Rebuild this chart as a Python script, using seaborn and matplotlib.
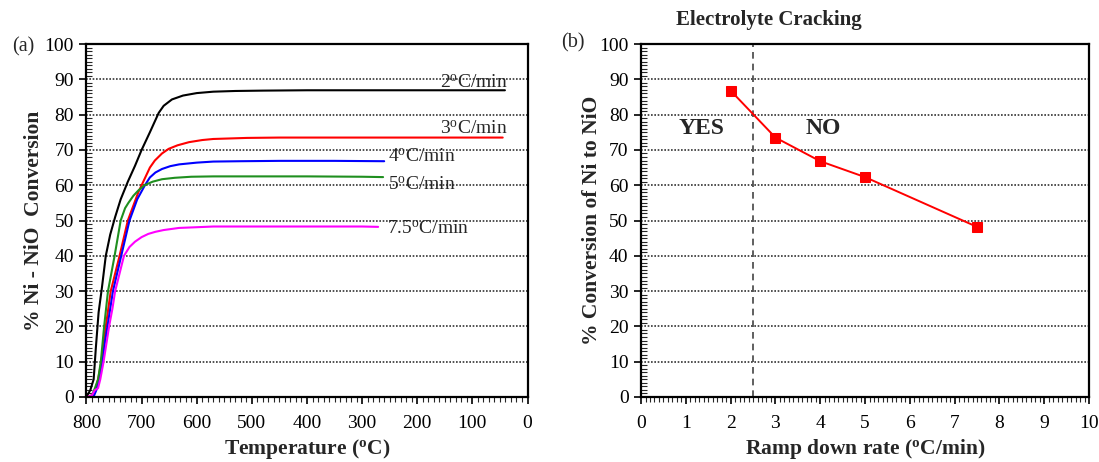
import numpy as np
import pandas as pd
import matplotlib
matplotlib.use("Agg")
import matplotlib.pyplot as plt
from matplotlib.ticker import MultipleLocator
import seaborn as sns

# Ni -> NiO conversion versus temperature during cool-down, one curve per ramp rate
temp_2 = [800, 793, 787, 783, 778, 772, 765, 757, 748, 738, 725, 712, 700, 685, 669, 660,
          645, 625, 600, 570, 530, 480, 400, 300, 200, 100, 41]
conv_2 = [0, 2, 5, 14, 24, 31, 40, 46, 51, 56, 61, 65.5, 70, 75, 80.5, 82.5,
          84.3, 85.4, 86.1, 86.5, 86.7, 86.8, 86.9, 86.9, 86.9, 86.9, 86.9]

temp_3 = [797, 790, 784, 779, 773, 765, 756, 740, 725, 706, 694, 685, 676, 663, 651, 635,
          614, 590, 570, 509, 450, 350, 250, 150, 45]
conv_3 = [0, 0.5, 2, 5, 10, 20, 30, 40, 50, 58, 62, 65, 67, 69, 70.3, 71.3,
          72.2, 72.8, 73.1, 73.4, 73.5, 73.5, 73.5, 73.5, 73.5]

temp_4 = [790, 786, 782, 777, 771, 767, 762, 752, 737, 722, 708, 694, 685, 675, 663, 648,
          632, 600, 570, 520, 450, 350, 260]
conv_4 = [0, 0.5, 2, 5, 10, 15, 20, 30, 40, 50, 56, 60, 62.2, 63.6, 64.6, 65.4,
          65.9, 66.4, 66.7, 66.8, 66.9, 66.9, 66.8]

temp_5 = [795, 790, 785, 779, 774, 768, 761, 749, 738, 730, 724, 715, 706, 695, 680, 663,
          640, 610, 570, 500, 400, 300, 262]
conv_5 = [0, 0.5, 2.4, 5, 10, 20, 30, 40, 50, 53.5, 55, 57, 58.5, 60, 61, 61.7,
          62.1, 62.4, 62.5, 62.5, 62.5, 62.4, 62.3]

temp_75 = [798, 790, 785, 779, 775, 769, 764, 759, 753, 748, 740, 732, 722, 712, 700, 688,
           675, 660, 632, 600, 570, 500, 400, 300, 271]
conv_75 = [0, 0.5, 1.9, 2.5, 5, 10, 15, 20, 25, 30, 35, 40, 42.5, 44, 45.3, 46.2,
           46.8, 47.3, 47.9, 48.1, 48.3, 48.3, 48.3, 48.3, 48.2]

rate_names = ["2", "3", "4", "5", "7.5"]
rate_colors = ["black", "#ff0000", "#0000ff", "#1f8f1f", "#ff00ff"]

# Final conversion at each ramp-down rate
ramp_rate = [2, 3, 4, 5, 7.5]
final_conv = [86.8, 73.5, 66.8, 62.3, 48.2]
crack_limit = 2.5

sns.set_style("ticks")
plt.rcParams["font.family"] = ["Liberation Serif", "DejaVu Serif"]
plt.rcParams["mathtext.fontset"] = "custom"
plt.rcParams["mathtext.rm"] = "Liberation Serif"
plt.rcParams["mathtext.bf"] = "Liberation Serif:bold"
plt.rcParams["mathtext.it"] = "Liberation Serif:italic"

curves = pd.concat([
    pd.DataFrame({"T": t, "conv": c, "rate": r})
    for t, c, r in zip([temp_2, temp_3, temp_4, temp_5, temp_75],
                       [conv_2, conv_3, conv_4, conv_5, conv_75], rate_names)
], ignore_index=True)
summary = pd.DataFrame({"rate": ramp_rate, "conv": final_conv})

fig = plt.figure(figsize=(10.99, 4.62), dpi=100)
ax1 = fig.add_axes([0.0787, 0.1407, 0.4013, 0.764])
ax2 = fig.add_axes([0.5833, 0.1407, 0.4076, 0.764])


def style_axes(ax, xminor):
    for s in ax.spines.values():
        s.set_visible(True)
        s.set_color("black")
        s.set_linewidth(1.6)
    ax.set_ylim(0, 100)
    ax.yaxis.set_major_locator(MultipleLocator(10))
    ax.yaxis.set_minor_locator(MultipleLocator(1))
    ax.xaxis.set_minor_locator(MultipleLocator(xminor))
    ax.tick_params(axis="both", which="major", direction="out", length=5, width=1.2,
                   labelsize=14, colors="black")
    ax.tick_params(axis="x", which="major", pad=8)
    ax.tick_params(axis="y", which="major", pad=4)
    ax.tick_params(axis="y", which="minor", direction="in", length=4, width=0.8)
    ax.tick_params(axis="x", which="minor", direction="out", length=3.5, width=0.8)
    for yv in range(10, 100, 10):
        ax.axhline(yv, color="#333333", lw=1.2, ls=(0, (1, 1)), zorder=0.5)


# (a) conversion curves
sns.lineplot(data=curves, x="T", y="conv", hue="rate", palette=rate_colors,
             hue_order=rate_names, sort=False, estimator=None, lw=1.5,
             legend=False, ax=ax1)
ax1.set_xlim(800, 0)
ax1.xaxis.set_major_locator(MultipleLocator(100))
style_axes(ax1, 10)
ax1.set_xlabel(r"Temperature ($^{\mathbf{o}}$C)", fontsize=15.5, fontweight="bold")
ax1.set_ylabel("% Ni - NiO  Conversion", fontsize=15.5, fontweight="bold")
ax1.yaxis.set_label_coords(-0.097, 0.5)
ax1.xaxis.set_label_coords(0.5, -0.113)

label_pos = [(159, 89), (159, 76), (253, 68), (253, 60), (255, 47.5)]
for name, (tx, ty) in zip(rate_names, label_pos):
    ax1.text(tx, ty, name + r"$^{\mathrm{o}}$C/min", fontsize=14, ha="left", va="center")
fig.text(0.011, 0.888, "(a)", fontsize=14.5)

# (b) final conversion vs ramp rate
sns.lineplot(data=summary, x="rate", y="conv", color="#ff0000", marker="s",
             markersize=7, markeredgecolor="#ff0000", lw=1.4, ax=ax2)
ax2.axvline(crack_limit, color="#444444", lw=1.2, ls=(0, (4, 3)), zorder=1)
ax2.set_xlim(0, 10)
ax2.xaxis.set_major_locator(MultipleLocator(1))
style_axes(ax2, 0.1)
ax2.set_xlabel(r"Ramp down rate ($^{\mathbf{o}}$C/min)", fontsize=15.5, fontweight="bold")
ax2.set_ylabel("% Conversion of Ni to NiO", fontsize=15.5, fontweight="bold")
ax2.yaxis.set_label_coords(-0.088, 0.5)
ax2.xaxis.set_label_coords(0.5, -0.113)
ax2.text(1.34, 76, "YES", fontsize=17, fontweight="bold", ha="center", va="center")
ax2.text(4.06, 76, "NO", fontsize=17, fontweight="bold", ha="center", va="center")
fig.text(0.7, 0.956, "Electrolyte Cracking", fontsize=15, fontweight="bold",
         ha="center", va="center")
fig.text(0.511, 0.898, "(b)", fontsize=14.5)

fig.savefig("out.png", dpi=100)
